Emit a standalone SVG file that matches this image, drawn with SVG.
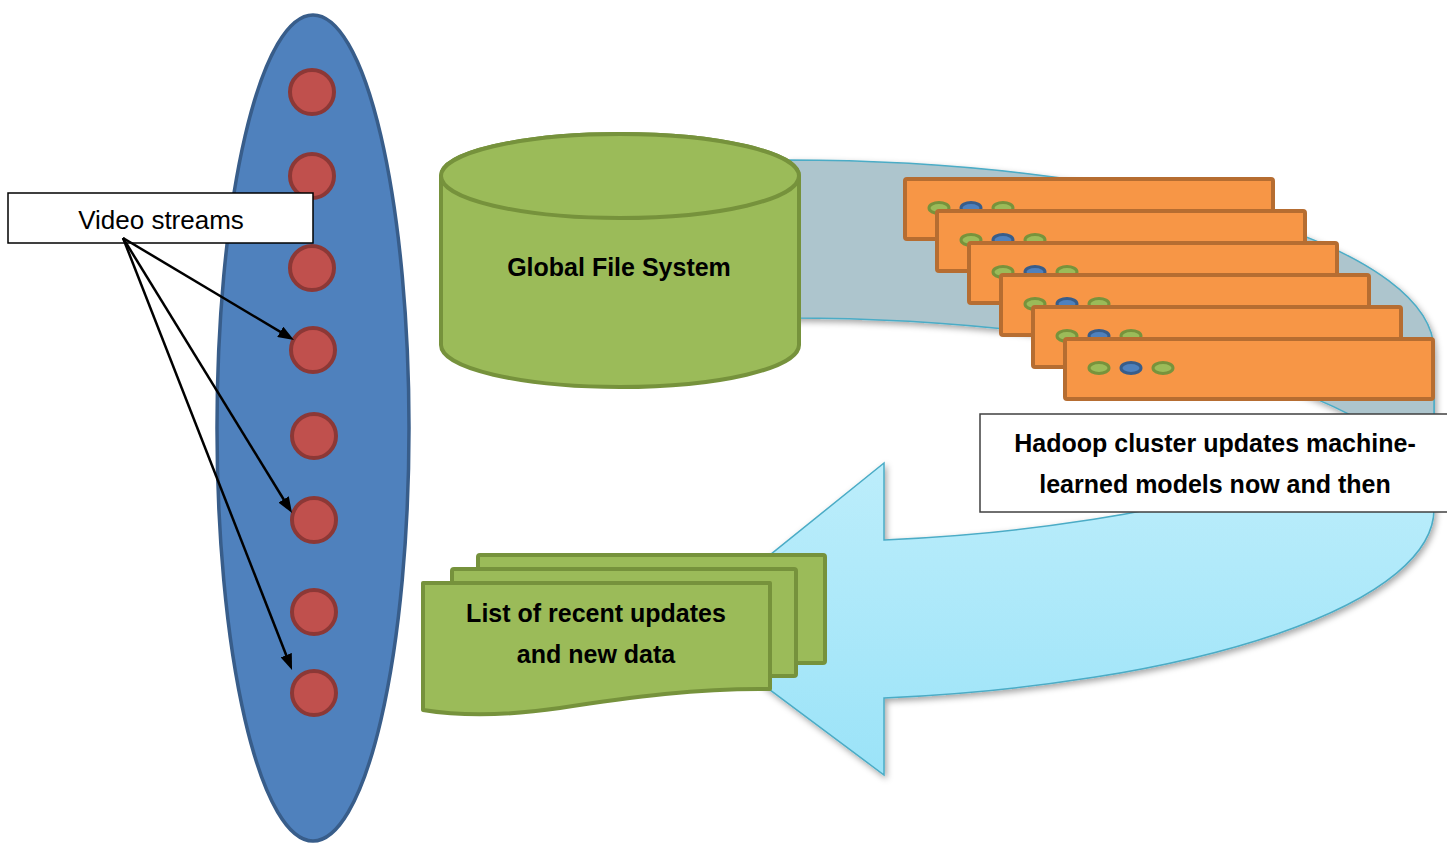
<svg xmlns="http://www.w3.org/2000/svg" width="1447" height="843" viewBox="0 0 1447 843">
<style>
.red{fill:#c0504d;stroke:#8c3836;stroke-width:4}
.box{fill:#f79646;stroke:#b66d31;stroke-width:4}
.gdot{fill:#9bbb59;stroke:#77933c;stroke-width:3}
.bdot{fill:#4f81bd;stroke:#385d8a;stroke-width:3}
.green{fill:#9bbb59;stroke:#76923c;stroke-width:4;stroke-linejoin:round}
.bold{font-family:"Liberation Sans",Arial,sans-serif;font-weight:bold;font-size:25px;fill:#000;text-anchor:middle}
.reg{font-family:"Liberation Sans",Arial,sans-serif;font-size:26px;fill:#000;text-anchor:middle}
.conn{stroke:#000;stroke-width:2.5;fill:none;marker-end:url(#ah)}
</style>
<defs>
<marker id="ah" markerUnits="userSpaceOnUse" markerWidth="16" markerHeight="12" refX="6" refY="6" orient="auto">
<path d="M0,0 L16,6 L0,12 Z" fill="#000"/>
</marker>
<linearGradient id="fg" gradientUnits="userSpaceOnUse" x1="0" y1="351" x2="0" y2="775">
<stop offset="0" stop-color="#c8f1fc"/>
<stop offset="1" stop-color="#9be3f8"/>
</linearGradient>
<filter id="sh" x="-10%" y="-10%" width="120%" height="130%">
<feDropShadow dx="2" dy="3" stdDeviation="3" flood-color="#000" flood-opacity="0.35"/>
</filter>
</defs>

<g id="stream-ellipse">
<ellipse cx="313" cy="428" rx="96" ry="413" fill="#4f81bd" stroke="#385d8a" stroke-width="3.5"/>
<circle class="red" cx="312" cy="92" r="22"/>
<circle class="red" cx="312" cy="176" r="22"/>
<circle class="red" cx="312" cy="268" r="22"/>
<circle class="red" cx="313" cy="350" r="22"/>
<circle class="red" cx="314" cy="436" r="22"/>
<circle class="red" cx="314" cy="520" r="22"/>
<circle class="red" cx="314" cy="612" r="22"/>
<circle class="red" cx="314" cy="693" r="22"/>
</g>

<g id="video-label">
<rect x="8" y="193" width="305" height="50" fill="#fff" stroke="#000" stroke-width="1.5"/>
<text class="reg" x="161" y="229">Video streams</text>
</g>

<g id="connectors">
<line class="conn" x1="123" y1="238" x2="285.4" y2="334.9"/>
<line class="conn" x1="123" y1="238" x2="286.8" y2="504.5"/>
<line class="conn" x1="123" y1="238" x2="288.4" y2="660.7"/>
</g>

<g id="curved-arrow" filter="url(#sh)">
<path d="M884,540 A646 191 0 0 0 1434,351 L1434,509 A646 191 0 0 1 884,698 L884,775 L683,625 L884,463 Z" fill="url(#fg)" stroke="#4bacc6" stroke-width="1.5" stroke-linejoin="miter"/>
<path d="M788,160 A646 191 0 0 1 1434,351 L1434,509 A646 191 0 0 0 788,318 Z" fill="#adc5cd" stroke="#4bacc6" stroke-width="1.5"/>
</g>

<g id="hadoop-cluster">
<g>
<rect class="box" x="905" y="179" width="368" height="60" rx="2"/>
<ellipse class="gdot" cx="939" cy="208" rx="10" ry="5.5"/>
<ellipse class="bdot" cx="971" cy="208" rx="10" ry="5.5"/>
<ellipse class="gdot" cx="1003" cy="208" rx="10" ry="5.5"/>
</g>
<g>
<rect class="box" x="937" y="211" width="368" height="60" rx="2"/>
<ellipse class="gdot" cx="971" cy="240" rx="10" ry="5.5"/>
<ellipse class="bdot" cx="1003" cy="240" rx="10" ry="5.5"/>
<ellipse class="gdot" cx="1035" cy="240" rx="10" ry="5.5"/>
</g>
<g>
<rect class="box" x="969" y="243" width="368" height="60" rx="2"/>
<ellipse class="gdot" cx="1003" cy="272" rx="10" ry="5.5"/>
<ellipse class="bdot" cx="1035" cy="272" rx="10" ry="5.5"/>
<ellipse class="gdot" cx="1067" cy="272" rx="10" ry="5.5"/>
</g>
<g>
<rect class="box" x="1001" y="275" width="368" height="60" rx="2"/>
<ellipse class="gdot" cx="1035" cy="304" rx="10" ry="5.5"/>
<ellipse class="bdot" cx="1067" cy="304" rx="10" ry="5.5"/>
<ellipse class="gdot" cx="1099" cy="304" rx="10" ry="5.5"/>
</g>
<g>
<rect class="box" x="1033" y="307" width="368" height="60" rx="2"/>
<ellipse class="gdot" cx="1067" cy="336" rx="10" ry="5.5"/>
<ellipse class="bdot" cx="1099" cy="336" rx="10" ry="5.5"/>
<ellipse class="gdot" cx="1131" cy="336" rx="10" ry="5.5"/>
</g>
<g>
<rect class="box" x="1065" y="339" width="368" height="60" rx="2"/>
<ellipse class="gdot" cx="1099" cy="368" rx="10" ry="5.5"/>
<ellipse class="bdot" cx="1131" cy="368" rx="10" ry="5.5"/>
<ellipse class="gdot" cx="1163" cy="368" rx="10" ry="5.5"/>
</g>
</g>

<g id="global-file-system">
<path class="green" d="M441,176 L441,345 A179 42 0 0 0 799,345 L799,176 A179 42 0 0 0 441,176 Z"/>
<ellipse class="green" cx="620" cy="176" rx="179" ry="42"/>
<text class="bold" x="619" y="276">Global File System</text>
</g>

<g id="recent-updates">
<rect class="green" x="478" y="555" width="347" height="108" rx="2"/>
<rect class="green" x="452" y="569" width="344" height="107" rx="2"/>
<path class="green" d="M423,583 L770,583 L770,689 C700,688 630,697 560,708 C505,716 460,716 423,710 Z"/>
<text class="bold" x="596" y="622">List of recent updates</text>
<text class="bold" x="596" y="663">and new data</text>
</g>

<g id="hadoop-label">
<rect x="980" y="414" width="480" height="98" fill="#fff" stroke="#404040" stroke-width="1.5"/>
<text class="bold" x="1215" y="452">Hadoop cluster updates machine-</text>
<text class="bold" x="1215" y="493">learned models now and then</text>
</g>
</svg>
